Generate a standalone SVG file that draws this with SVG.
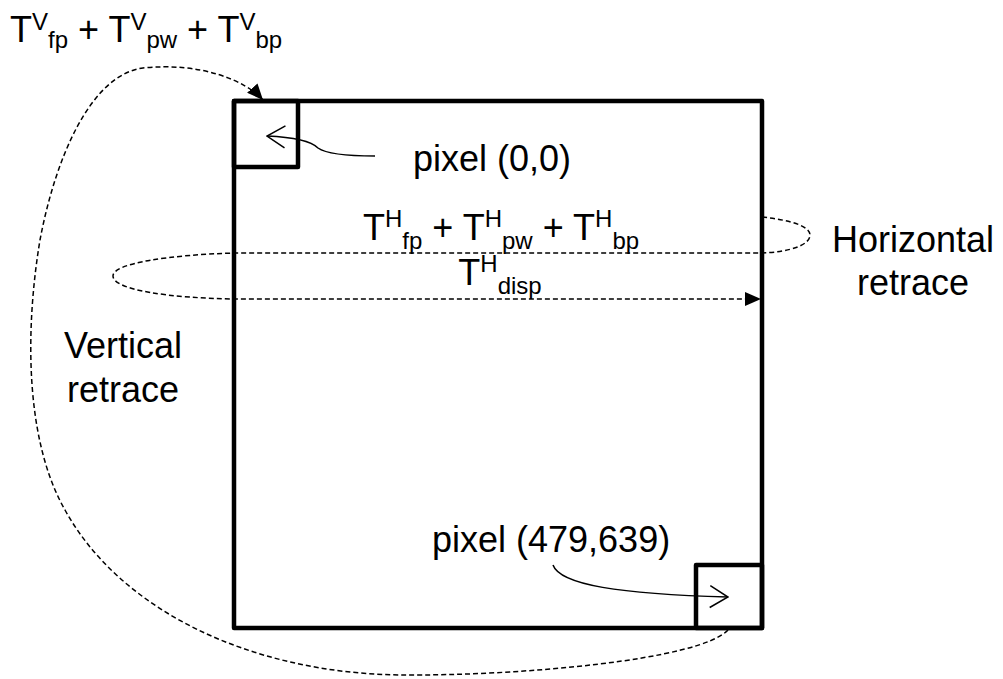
<svg xmlns="http://www.w3.org/2000/svg" width="1003" height="679" viewBox="0 0 1003 679">
<style>
.t{font-family:"Liberation Sans",Arial,sans-serif;font-size:36px;fill:#000}
.s{font-size:24px}
.box{fill:none;stroke:#000;stroke-width:4.5;stroke-linejoin:round}
.dash{fill:none;stroke:#000;stroke-width:1.5;stroke-dasharray:5 3}
.solid{fill:none;stroke:#000;stroke-width:1.5}
</style>
<defs>
<marker id="filled" viewBox="0 0 16 14" refX="16" refY="7" markerWidth="16" markerHeight="14" markerUnits="userSpaceOnUse" orient="auto"><path d="M0,0 L16,7 L0,14 z" fill="#000"/></marker>
<marker id="open" viewBox="0 0 20 24" refX="19" refY="12" markerWidth="20" markerHeight="24" markerUnits="userSpaceOnUse" orient="auto"><path d="M1,1 L19,12 L1,23" fill="none" stroke="#000" stroke-width="1.5"/></marker>
</defs>
<rect width="1003" height="679" fill="#fff"/>
<g id="screen"><rect class="box" x="234" y="101" width="528" height="527"/></g>
<g id="pixel00"><rect class="box" x="234" y="101" width="64" height="66"/></g>
<g id="pixelLast"><rect class="box" x="696" y="565" width="66" height="63"/></g>
<g id="connectors">
<path class="dash" d="M762,217 C790,220 810,226 810,235 C810,245 790,252 762,253 L234,253 C170,255 113,263 113,276 C113,290 170,298 234,299 L761,299" marker-end="url(#filled)"/>
<path class="dash" d="M728,630 C700,660 520,676 400,675 C250,673 120,610 65,510 C25,440 25,330 40,240 C55,160 90,75 143,68 C200,62 245,80 263,100" marker-end="url(#filled)"/>
<path class="solid" d="M375,156 C345,156 325,153 318,148 C310,140 290,137 267,136" marker-end="url(#open)"/>
<path class="solid" d="M553,565 C560,585 620,594 728,597" marker-end="url(#open)"/>
</g>
<g id="labels">
<text class="t" x="10" y="42">T<tspan class="s" dy="-12">V</tspan><tspan class="s" dy="18">fp</tspan><tspan dy="-6"> + T</tspan><tspan class="s" dy="-12">V</tspan><tspan class="s" dy="18">pw</tspan><tspan dy="-6"> + T</tspan><tspan class="s" dy="-12">V</tspan><tspan class="s" dy="18">bp</tspan></text>
<text class="t" x="413" y="171">pixel (0,0)</text>
<text class="t" x="501" y="240" text-anchor="middle">T<tspan class="s" dy="-13">H</tspan><tspan class="s" dy="22">fp</tspan><tspan dy="-9"> + T</tspan><tspan class="s" dy="-13">H</tspan><tspan class="s" dy="22">pw</tspan><tspan dy="-9"> + T</tspan><tspan class="s" dy="-13">H</tspan><tspan class="s" dy="22">bp</tspan></text>
<text class="t" x="500" y="285" text-anchor="middle">T<tspan class="s" dy="-13">H</tspan><tspan class="s" dy="22">disp</tspan></text>
<text class="t" x="913" y="252" text-anchor="middle">Horizontal</text>
<text class="t" x="913" y="295" text-anchor="middle">retrace</text>
<text class="t" x="123" y="358" text-anchor="middle">Vertical</text>
<text class="t" x="123" y="402" text-anchor="middle">retrace</text>
<text class="t" x="432" y="552">pixel (479,639)</text>
</g>
</svg>
